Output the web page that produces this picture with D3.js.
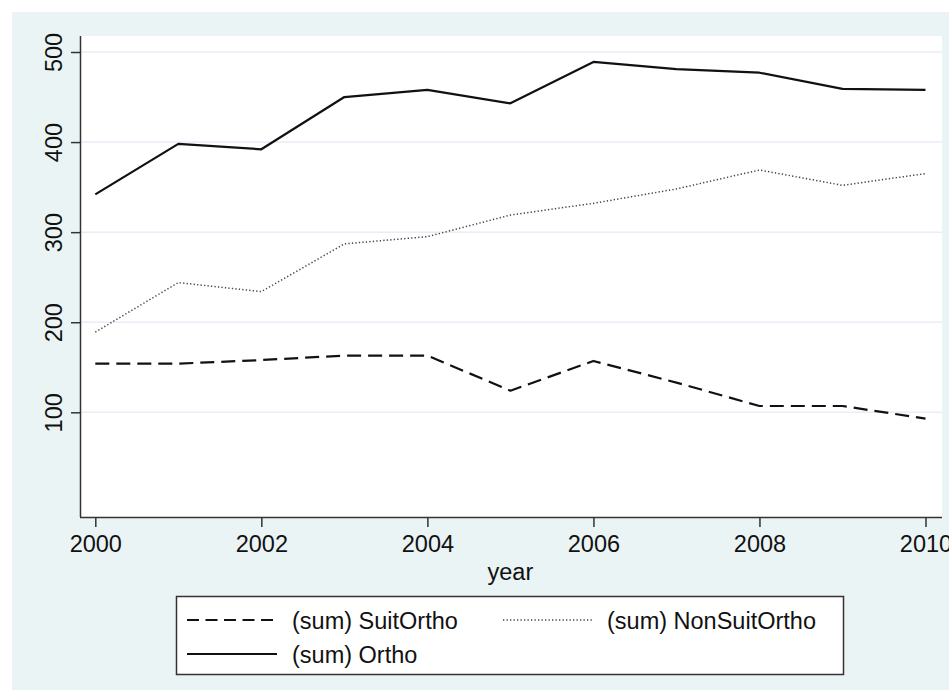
<!DOCTYPE html>
<html>
<head>
<meta charset="utf-8">
<script src="https://cdn.jsdelivr.net/npm/d3@7"></script>
<style>
  html, body { margin: 0; padding: 0; background: #ffffff; }
  svg { display: block; font-family: "Liberation Sans", Arial, Helvetica, sans-serif; }
</style>
</head>
<body>
<svg id="chart" width="949" height="690"></svg>
<script>
const years = [2000, 2001, 2002, 2003, 2004, 2005, 2006, 2007, 2008, 2009, 2010];
const suitOrtho = [154, 154, 158, 163, 163, 124, 157, 133, 107, 107, 93];
const nonSuitOrtho = [189, 244, 234, 287, 295, 319, 332, 348, 369, 352, 365];
const ortho = [342, 398, 392, 450, 458, 443, 489, 481, 477, 459, 458];
const xTicks = [2000, 2002, 2004, 2006, 2008, 2010];
const yTicks = [100, 200, 300, 400, 500];
const seriesNames = ["(sum) SuitOrtho", "(sum) NonSuitOrtho", "(sum) Ortho"];
const xTitle = "year";

const svg = d3.select("#chart");
const W = 949, H = 690;
const plot = { left: 80, right: 942, top: 36, bottom: 517 };

// graph region background
svg.append("rect").attr("x", 12).attr("y", 12).attr("width", W - 12).attr("height", H - 12)
  .attr("fill", "#ebf4f4");
// plot region
svg.append("rect").attr("x", plot.left).attr("y", plot.top)
  .attr("width", plot.right - plot.left).attr("height", plot.bottom - plot.top)
  .attr("fill", "#ffffff");

const x = d3.scaleLinear().domain([2000, 2010]).range([95.3, 925.5]);
const y = d3.scaleLinear().domain([100, 500]).range([412.3, 52]);

// grid
svg.append("g").selectAll("line").data(yTicks).join("line")
  .attr("x1", plot.left).attr("x2", plot.right)
  .attr("y1", d => y(d)).attr("y2", d => y(d))
  .attr("stroke", "#e6eef6").attr("stroke-width", 1.5);

const fontSize = 23.5;

// y axis
const yAxis = d3.axisLeft(y).tickValues(yTicks).tickSize(9).tickPadding(0).tickFormat(d3.format("d"));
const gy = svg.append("g").attr("transform", `translate(${plot.left},0)`).call(yAxis);
gy.select(".domain").attr("d", `M0.5,${plot.top}V${plot.bottom}`).attr("stroke", "#333").attr("stroke-width", 1.5);
gy.selectAll(".tick line").attr("stroke", "#333").attr("stroke-width", 1.5);
gy.selectAll(".tick text")
  .attr("x", null).attr("dy", null)
  .attr("transform", "translate(-18.5,0) rotate(-90)")
  .attr("text-anchor", "middle")
  .attr("fill", "#111")
  .style("font-size", fontSize + "px");

// x axis
const xAxis = d3.axisBottom(x).tickValues(xTicks).tickSize(10).tickPadding(6).tickFormat(d3.format("d"));
const gx = svg.append("g").attr("transform", `translate(0,${plot.bottom})`).call(xAxis);
gx.select(".domain").attr("d", `M${plot.left},0.5H${plot.right}`).attr("stroke", "#333").attr("stroke-width", 1.5);
gx.selectAll(".tick line").attr("stroke", "#333").attr("stroke-width", 1.5);
gx.selectAll(".tick text").attr("fill", "#111").attr("dy", null).attr("y", 34.5)
  .style("font-size", fontSize + "px");

svg.append("text").attr("x", x(2005)).attr("y", 580).attr("text-anchor", "middle")
  .attr("fill", "#111").style("font-size", fontSize + "px").text(xTitle);

// lines
const line = d3.line().x((d, i) => x(years[i])).y(d => y(d));
const styles = [
  { data: suitOrtho, dash: "14,7", width: 2.2, color: "#111" },
  { data: nonSuitOrtho, dash: "1.3,2.2", width: 1.5, color: "#444" },
  { data: ortho, dash: null, width: 2.2, color: "#111" }
];
styles.forEach(s => {
  svg.append("path").datum(s.data).attr("d", line)
    .attr("fill", "none").attr("stroke", s.color).attr("stroke-width", s.width)
    .attr("stroke-linejoin", "round")
    .attr("stroke-dasharray", s.dash);
});

// legend
const lg = svg.append("g");
lg.append("rect").attr("x", 176.5).attr("y", 596.5).attr("width", 667).attr("height", 78)
  .attr("fill", "#ffffff").attr("stroke", "#333").attr("stroke-width", 1.5);
const legendItems = [
  { name: seriesNames[0], sx: 187, tx: 292, ly: 620, style: styles[0], ldash: "12,6.5" },
  { name: seriesNames[1], sx: 503, tx: 607, ly: 620, style: styles[1], ldash: "1.3,2.2" },
  { name: seriesNames[2], sx: 187, tx: 292, ly: 654, style: styles[2], ldash: null }
];
legendItems.forEach(it => {
  lg.append("line").attr("x1", it.sx).attr("x2", it.sx + 90).attr("y1", it.ly).attr("y2", it.ly)
    .attr("stroke", it.style.color).attr("stroke-width", it.style.width)
    .attr("stroke-dasharray", it.ldash);
  lg.append("text").attr("x", it.tx).attr("y", it.ly + 8.5).attr("fill", "#111")
    .style("font-size", fontSize + "px").text(it.name);
});
</script>
</body>
</html>
